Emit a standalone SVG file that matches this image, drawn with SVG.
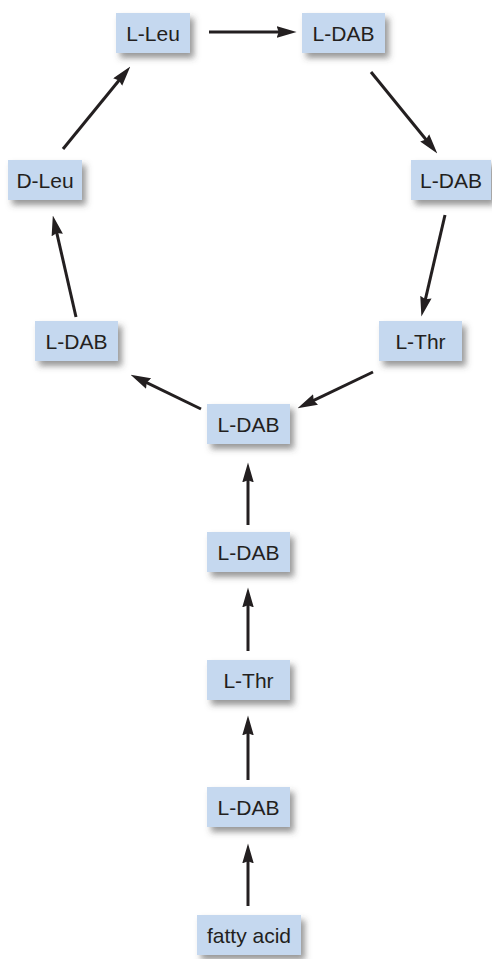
<svg xmlns="http://www.w3.org/2000/svg" width="492" height="959" viewBox="0 0 492 959">
<defs>
<style>
.box{fill:#c5d8ef;filter:url(#sh);}
.lbl{font-family:"Liberation Sans",Arial,sans-serif;font-size:21px;fill:#231f20;text-anchor:middle;}
.conn{stroke:#231f20;stroke-width:3;fill:none;marker-end:url(#ah);}
</style>
<filter id="sh" x="-20%" y="-30%" width="150%" height="180%">
<feDropShadow dx="4" dy="5" stdDeviation="3" flood-color="#444" flood-opacity="0.55"/>
</filter>
<marker id="ah" markerUnits="userSpaceOnUse" markerWidth="20" markerHeight="12" viewBox="0 0 19 11" refX="8" refY="5.5" orient="auto">
<path d="M0,0 L19,5.5 L0,11 L2,5.5 z" fill="#231f20"/>
</marker>
</defs>
<rect width="492" height="959" fill="#fff"/>
<g id="connectors">
<line class="conn" x1="209" y1="32" x2="285" y2="32"/>
<line class="conn" x1="371" y1="72" x2="430" y2="144.5"/>
<line class="conn" x1="445" y1="215" x2="424" y2="305.3"/>
<line class="conn" x1="373" y1="372" x2="308" y2="403.2"/>
<line class="conn" x1="201" y1="409" x2="141" y2="379.8"/>
<line class="conn" x1="76" y1="317" x2="55.4" y2="226.8"/>
<line class="conn" x1="63" y1="149" x2="123" y2="75.5"/>
<line class="conn" x1="248" y1="525" x2="248" y2="474"/>
<line class="conn" x1="248" y1="651" x2="248" y2="599"/>
<line class="conn" x1="248" y1="780" x2="248" y2="727"/>
<line class="conn" x1="248" y1="906" x2="248" y2="855"/>
</g>
<g id="n-lleu"><rect class="box" x="116" y="13" width="74" height="40"/><text class="lbl" x="153" y="40.5">L-Leu</text></g>
<g id="n-ldab-top"><rect class="box" x="302" y="13" width="83" height="40"/><text class="lbl" x="343.5" y="40.5">L-DAB</text></g>
<g id="n-ldab-right"><rect class="box" x="411" y="160" width="80" height="40"/><text class="lbl" x="451" y="187.5">L-DAB</text></g>
<g id="n-dleu"><rect class="box" x="8" y="160" width="74" height="40"/><text class="lbl" x="45" y="187.5">D-Leu</text></g>
<g id="n-lthr-right"><rect class="box" x="379" y="321" width="83" height="40"/><text class="lbl" x="420.5" y="348.5">L-Thr</text></g>
<g id="n-ldab-left"><rect class="box" x="35" y="321" width="83" height="40"/><text class="lbl" x="76.5" y="348.5">L-DAB</text></g>
<g id="n-ldab-center"><rect class="box" x="207" y="404" width="83" height="40"/><text class="lbl" x="248.5" y="431.5">L-DAB</text></g>
<g id="n-ldab-2"><rect class="box" x="207" y="532" width="83" height="40"/><text class="lbl" x="248.5" y="559.5">L-DAB</text></g>
<g id="n-lthr"><rect class="box" x="207" y="660" width="83" height="40"/><text class="lbl" x="248.5" y="687.5">L-Thr</text></g>
<g id="n-ldab-1"><rect class="box" x="207" y="787" width="83" height="40"/><text class="lbl" x="248.5" y="814.5">L-DAB</text></g>
<g id="n-fatty"><rect class="box" x="197" y="915" width="104" height="40"/><text class="lbl" x="249" y="942.5">fatty acid</text></g>
</svg>
